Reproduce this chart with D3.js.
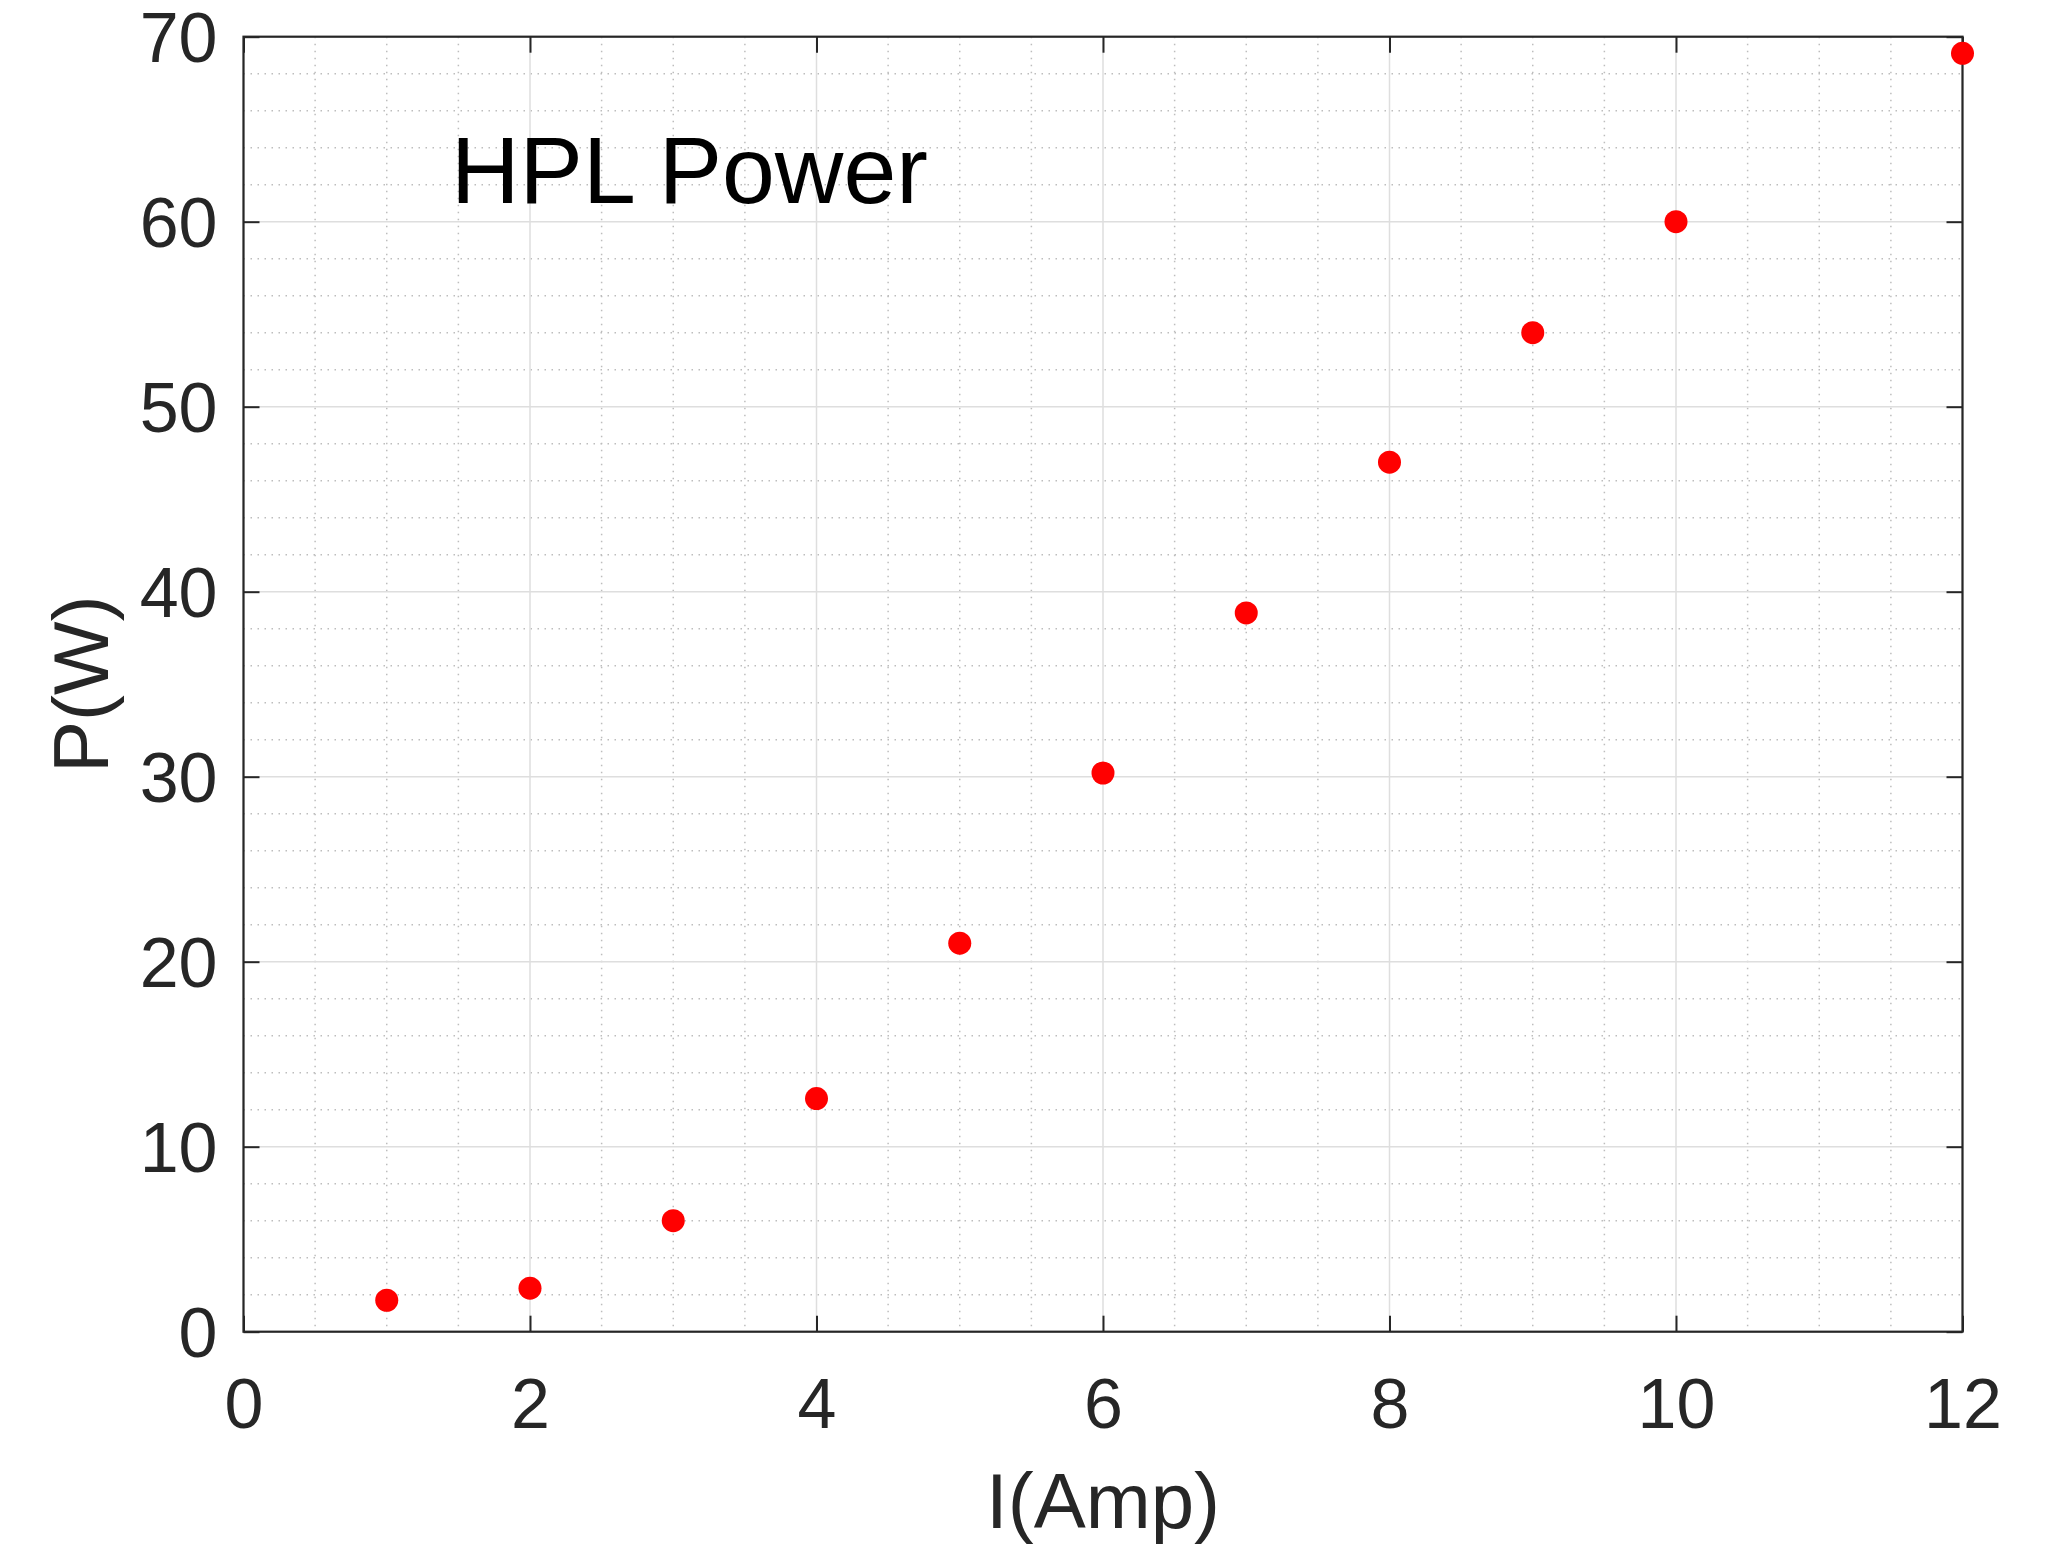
<!DOCTYPE html>
<html>
<head>
<meta charset="utf-8">
<script src="https://cdn.jsdelivr.net/npm/d3@7/dist/d3.min.js"></script>
<style>
  html, body { margin: 0; padding: 0; background: #fff; }
  svg { display: block; font-family: "Liberation Sans", Arial, Helvetica, sans-serif; }
</style>
</head>
<body>
<svg id="chart" width="2064" height="1547"></svg>
<script>
const current = [1, 2, 3, 4, 5, 6, 7, 8, 9, 10, 12];
const power   = [1.7, 2.35, 6.0, 12.6, 21.0, 30.2, 38.85, 47.0, 54.0, 60.0, 69.1];
const xTicks = [0, 2, 4, 6, 8, 10, 12];
const yTicks = [0, 10, 20, 30, 40, 50, 60, 70];
const titleText = "HPL Power";
const xLabel = "I(Amp)";
const yLabel = "P(W)";

const svg = d3.select("#chart");
const L = 243.5, R = 1962.5, T = 36.7, B = 1331.7;
const x = d3.scaleLinear().domain([0, 12]).range([L, R]);
const y = d3.scaleLinear().domain([0, 70]).range([B, T]);

const axisColor = "#262626";

// minor grid (dotted)
const xMinor = d3.range(0, 12.01, 0.5).filter(v => v % 2 !== 0);
const yMinor = d3.range(0, 70.01, 2).filter(v => v % 10 !== 0);
const g = svg.append("g");
g.selectAll("line.xm").data(xMinor).join("line")
  .attr("x1", d => x(d)).attr("x2", d => x(d)).attr("y1", T).attr("y2", B)
  .attr("stroke", "#bdbdbd").attr("stroke-width", 1.5).attr("stroke-dasharray", "1.5,5.5");
g.selectAll("line.ym").data(yMinor).join("line")
  .attr("y1", d => y(d)).attr("y2", d => y(d)).attr("x1", L).attr("x2", R)
  .attr("stroke", "#bdbdbd").attr("stroke-width", 1.5).attr("stroke-dasharray", "1.5,5.5");
// major grid
g.selectAll("line.xg").data(xTicks).join("line")
  .attr("x1", d => x(d)).attr("x2", d => x(d)).attr("y1", T).attr("y2", B)
  .attr("stroke", "#dedede").attr("stroke-width", 1.5);
g.selectAll("line.yg").data(yTicks).join("line")
  .attr("y1", d => y(d)).attr("y2", d => y(d)).attr("x1", L).attr("x2", R)
  .attr("stroke", "#dedede").attr("stroke-width", 1.5);

// axes with inward ticks
const tickLen = 16;
const axB = svg.append("g").attr("transform", `translate(0,${B})`)
  .call(d3.axisBottom(x).tickValues(xTicks).tickSize(-tickLen).tickPadding(10).tickFormat(d3.format("d")));
const axT = svg.append("g").attr("transform", `translate(0,${T})`)
  .call(d3.axisTop(x).tickValues(xTicks).tickSize(-tickLen).tickFormat(""));
const axL = svg.append("g").attr("transform", `translate(${L},0)`)
  .call(d3.axisLeft(y).tickValues(yTicks).tickSize(-tickLen).tickPadding(26).tickFormat(d3.format("d")));
const axR = svg.append("g").attr("transform", `translate(${R},0)`)
  .call(d3.axisRight(y).tickValues(yTicks).tickSize(-tickLen).tickFormat(""));
[axB, axT, axL, axR].forEach(a => {
  a.select(".domain").remove();
  a.selectAll(".tick line").attr("stroke", axisColor).attr("stroke-width", 2);
  a.selectAll(".tick text").attr("fill", axisColor).attr("font-size", 70)
    .attr("font-family", '"Liberation Sans", Arial, sans-serif');
});
axB.selectAll(".tick text").attr("dy", null).attr("y", 96).attr("dominant-baseline", "alphabetic");
axL.selectAll(".tick text").attr("dy", "0.36em");

// box
svg.append("rect").attr("x", L).attr("y", T).attr("width", R - L).attr("height", B - T)
  .attr("fill", "none").attr("stroke", axisColor).attr("stroke-width", 2.2);

// points
svg.append("g").selectAll("circle").data(current.map((c, i) => [c, power[i]])).join("circle")
  .attr("cx", d => x(d[0])).attr("cy", d => y(d[1])).attr("r", 11.5).attr("fill", "#ff0000");

// title
svg.append("text").attr("x", 451).attr("y", 203).attr("font-size", 95).attr("fill", "#000")
  .text(titleText);

// axis labels
svg.append("text").attr("x", (L + R) / 2).attr("y", 1528).attr("text-anchor", "middle")
  .attr("font-size", 78).attr("fill", axisColor).text(xLabel);
svg.append("text").attr("transform", `translate(108,${(T + B) / 2}) rotate(-90)`)
  .attr("text-anchor", "middle").attr("font-size", 78).attr("fill", axisColor).text(yLabel);
</script>
</body>
</html>
